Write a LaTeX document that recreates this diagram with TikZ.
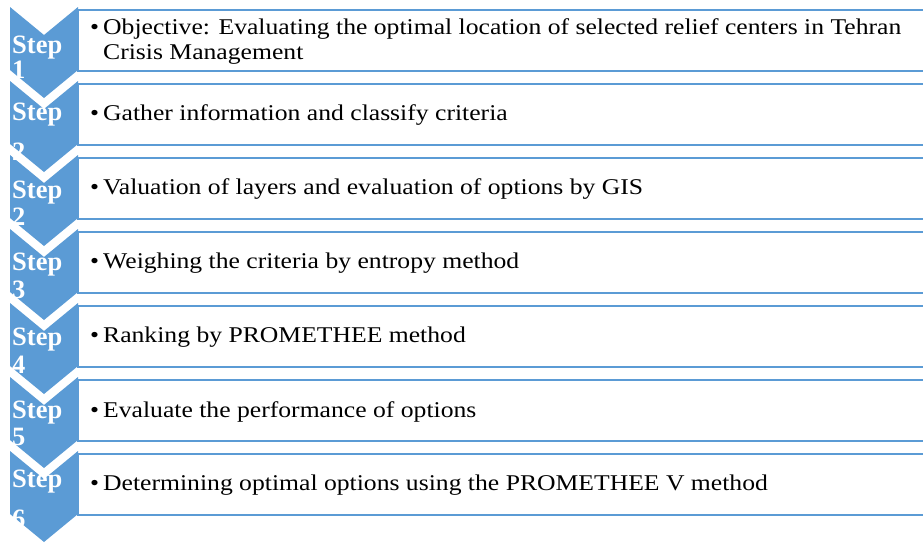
\documentclass[tikz,border=0pt]{standalone}
\usepackage{fontspec}
\setmainfont{Liberation Serif}
\newfontfamily\itemfont[FakeStretch=1.14]{Liberation Serif}
\definecolor{chev}{RGB}{91,155,213}
\begin{document}
\begin{tikzpicture}[x=1pt,y=-1pt,
  chevron/.style={fill=chev},
  itembox/.style={draw=chev, line width=2pt, fill=white},
  steptext/.style={text=white, font=\fontsize{26.5}{26.5}\selectfont\bfseries, anchor=base west, inner sep=0pt},
  itemtext/.style={font=\itemfont\fontsize{22.5}{25.5}\selectfont, anchor=west, align=left, inner sep=0pt}]
\useasboundingbox (0,0) rectangle (923,544);
\clip (0,0) rectangle (923,544);
% boxes and chevrons; top of each chevron
\foreach \t [count=\i] in {7,81,155,229,303,377,451}
{
  % item box, open beyond the right edge
  \draw[itembox] (78,\t+3) rectangle (940,\t+64);
  % downward chevron
  \fill[chevron] (10,\t) -- (44,\t+28) -- (78,\t) -- (78,\t+63) -- (44,\t+91) -- (10,\t+63) -- cycle;
}
% top of chevron / baseline of "Step" / baseline of number / number / item text
\foreach \t/\sb/\nb/\num/\txt [count=\i] in {
  7/53/78/1/{\llap{•\hspace{4pt}}Objective: Evaluating the optimal location of selected relief centers in Tehran\\Crisis Management},
  81/120/160/2/{\llap{•\hspace{4pt}}Gather information and classify criteria},
  155/198/225/2/{\llap{•\hspace{4pt}}Valuation of layers and evaluation of options by GIS},
  229/270/298/3/{\llap{•\hspace{4pt}}Weighing the criteria by entropy method},
  303/345/373/4/{\llap{•\hspace{4pt}}Ranking by PROMETHEE method},
  377/418/445/5/{\llap{•\hspace{4pt}}Evaluate the performance of options},
  451/487/527/6/{\llap{•\hspace{4pt}}Determining optimal options using the PROMETHEE V method}}
{
  \node[itemtext] (item\i) at (103,\t+34.5) {\txt};
  \node[steptext] (step\i) at (12,\sb) {Step};
  \node[steptext] (num\i) at (12,\nb) {\num};
}
\end{tikzpicture}
\end{document}
